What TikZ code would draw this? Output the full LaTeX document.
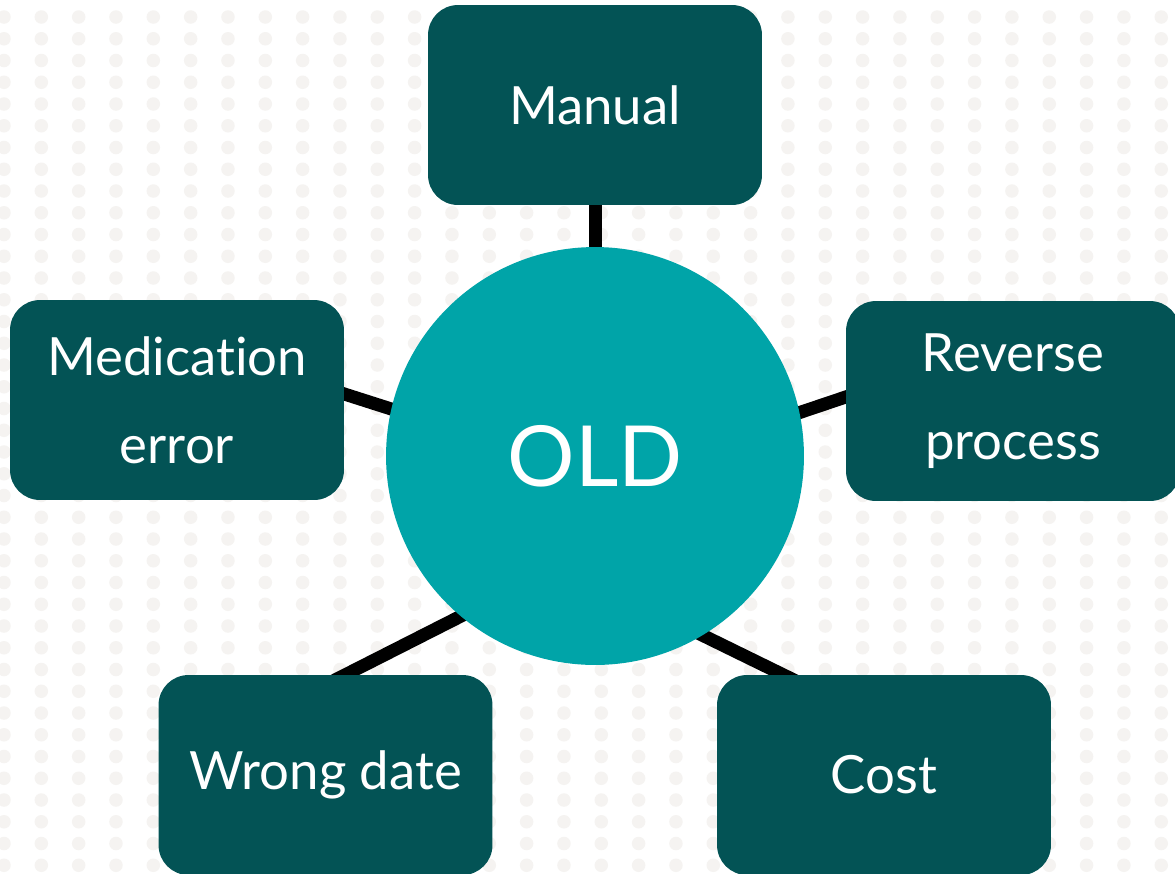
\documentclass[tikz,border=0pt]{standalone}
\usepackage{fontspec}
\setmainfont{Lato}[Ligatures={NoCommon}]
\usetikzlibrary{calc,backgrounds}
\definecolor{boxteal}{HTML}{035355}
\definecolor{circteal}{HTML}{00A4A8}
\definecolor{dotgray}{HTML}{F5F3F1}
\tikzset{
  issuebox/.style={fill=boxteal, rounded corners=0.6cm, minimum width=6.68cm, minimum height=4cm,
    text=white, align=center, font=\fontsize{30}{50}\selectfont, inner sep=0pt},
  oldcircle/.style={circle, fill=circteal, minimum size=8.36cm, inner sep=0pt, text=white,
    font=\fontsize{48}{60}\selectfont},
  conn/.style={line width=0.26cm, black, line cap=butt, shorten <=-10pt, shorten >=-10pt},
  bgdot/.style={fill=dotgray}
}
\begin{document}
\begin{tikzpicture}[x=0.02cm, y=-0.02cm]
\useasboundingbox (0,0) rectangle (1175,873);
\clip (0,0) rectangle (1175,873);
\begin{scope}[on background layer]
  \fill[white] (0,0) rectangle (1175,873);
  \foreach \i in {0,...,31} {
    \foreach \j in {0,...,40} {
      \fill[bgdot] ({4+37.33*\i},{17+21.75*\j}) circle (0.135cm);
    }
  }
\end{scope}
\node[oldcircle] (old) at (595,456) {OLD};
\node[issuebox] (man) at (595,105) {Manual};
\node[issuebox] (med) at (177,400) {Medication\\error};
\node[issuebox] (rev) at (1013,401) {Reverse\\process};
\node[issuebox] (wro) at (325.5,775) {Wrong date};
\node[issuebox] (cst) at (884,775) {Cost};
\begin{scope}[on background layer]
  \draw[conn] (man.south) -- (old.north);
  \draw[conn] (old.167) -- ($(med.east)+(0,-6)$);
  \draw[conn] (old.12) -- ($(rev.west)+(0,-4)$);
  \draw[conn] (old.230) -- ($(wro.north)+(20,0)$);
  \draw[conn] (old.301) -- ($(cst.north)+(-101,0)$);
\end{scope}
\end{tikzpicture}
\end{document}
